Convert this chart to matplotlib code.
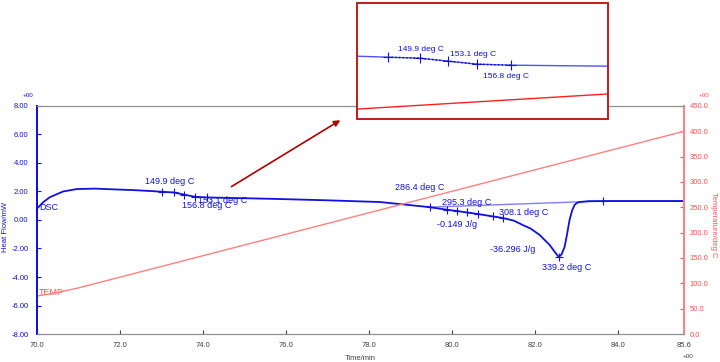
import matplotlib
matplotlib.use("Agg")
import matplotlib.pyplot as plt
import numpy as np

plt.rcParams['font.family'] = ['Liberation Sans', 'DejaVu Sans']

# DSC curve (time in min, heat flow in mW)
t_dsc = [70.0, 70.15, 70.31, 70.63, 70.96, 71.4, 71.83, 72.3, 72.75, 73.02, 73.3, 73.55,
         73.8, 74.1, 74.95, 75.86, 77.0, 78.27, 79.47, 79.88, 80.12, 80.36, 80.63, 80.99,
         81.23, 81.5, 81.71, 81.9, 82.12, 82.36, 82.5, 82.58, 82.65, 82.72, 82.78, 82.84,
         82.9, 82.96, 83.02, 83.08, 83.3, 84.0, 85.6]
hf_dsc = [0.8, 1.25, 1.6, 2.0, 2.17, 2.2, 2.15, 2.1, 2.03, 1.98, 1.93, 1.78,
          1.63, 1.58, 1.53, 1.47, 1.38, 1.26, 0.9, 0.72, 0.63, 0.53, 0.42, 0.25,
          0.14, -0.05, -0.35, -0.6, -1.05, -1.75, -2.3, -2.6, -2.4, -1.9, -1.0, 0.0,
          0.65, 1.05, 1.2, 1.26, 1.32, 1.33, 1.33]

# temperature program (deg C)
t_temp = [70.0, 70.5, 71.0, 85.6]
temp = [75, 82, 91, 400]

# integration baseline
t_base = [79.47, 83.64, 85.6]
hf_base = [0.9, 1.33, 1.33]

# analysis markers
t_mk1 = [73.02, 73.3, 73.55, 73.8, 74.1]
hf_mk1 = [1.98, 1.93, 1.78, 1.63, 1.58]
t_mk2 = [79.47, 79.88, 80.12, 80.36, 80.63, 80.99, 81.23, 82.58, 83.64]
hf_mk2 = [0.9, 0.72, 0.63, 0.53, 0.42, 0.25, 0.14, -2.6, 1.33]

blue = '#1010e0'
lblue = '#8080ff'
pink = '#ff8080'
dred = '#b00000'

fig = plt.figure(figsize=(7.2, 3.62), dpi=100)
ax = fig.add_axes([0.0514, 0.0773, 0.8986, 0.63])
ax2 = ax.twinx()

ax.plot(t_base, hf_base, color=lblue, lw=1.0)
ax.plot(t_dsc, hf_dsc, color=blue, lw=1.3)
ax.plot(t_mk1, hf_mk1, '+', color=blue, ms=6, mew=0.8)
ax.plot(t_mk2, hf_mk2, '+', color=blue, ms=6, mew=0.8)
ax2.plot(t_temp, temp, color=pink, lw=1.0)

ax.set_xlim(70.0, 85.6)
ax.set_ylim(-8, 8)
ax2.set_ylim(0, 450)
ax.set_xticks([70, 72, 74, 76, 78, 80, 82, 84, 85.6])
ax.set_xticklabels(['70.0', '72.0', '74.0', '76.0', '78.0', '80.0', '82.0', '84.0', '85.6'])
ax.set_yticks(np.arange(-8, 9, 2))
ax.set_yticklabels(['%.2f' % v for v in np.arange(-8, 9, 2)])
ax2.set_yticks(np.arange(0, 451, 50))
ax2.set_yticklabels(['%.1f' % v for v in np.arange(0, 451, 50)])

ax.tick_params(axis='x', direction='in', length=3, labelsize=5.5, colors='#404040', pad=6)
ax.tick_params(axis='y', direction='in', length=3, labelsize=5.5, colors=blue, pad=6)
ax2.tick_params(axis='y', direction='in', length=3, labelsize=5.5, colors='#ff5050', pad=4)

for a in (ax, ax2):
    a.spines['top'].set_color('#909090')
    a.spines['bottom'].set_color('#909090')
    a.spines['left'].set_color(blue)
    a.spines['right'].set_color(pink)
    a.spines['left'].set_linewidth(1.3)
    a.spines['right'].set_linewidth(1.3)

ax.set_xlabel('Time/min', fontsize=5.5, color='#404040', labelpad=4)
ax.set_ylabel('Heat Flow/mW', fontsize=5.5, color=blue)
ax2.set_ylabel('Temperature/deg C', fontsize=5.5, color='#ff5050', rotation=270, va='center')
ax.yaxis.set_label_coords(-0.043, 0.47)
ax2.yaxis.set_label_coords(1.045, 0.48)

fig.text(0.032, 0.733, '+00', fontsize=4.5, color=blue)
fig.text(0.97, 0.733, '+00', fontsize=4.5, color='#ff5050')
fig.text(0.948, 0.012, '+00', fontsize=4.5, color='#404040')

fs = 6.5
ax.text(70.05, 0.9, 'DSC', fontsize=fs, color=blue, va='center')
ax.text(70.05, -5.1, 'TEMP', fontsize=fs, color='#ff5050', va='center')
ax.text(73.2, 2.73, '149.9 deg C', fontsize=fs, color=blue, ha='center', va='center')
ax.text(73.88, 1.4, '153.1 deg C', fontsize=fs, color=blue, ha='left', va='center')
ax.text(74.1, 1.0, '156.8 deg C', fontsize=fs, color=blue, ha='center', va='center')
ax.text(79.23, 2.3, '286.4 deg C', fontsize=fs, color=blue, ha='center', va='center')
ax.text(80.36, 1.26, '295.3 deg C', fontsize=fs, color=blue, ha='center', va='center')
ax.text(81.73, 0.5, '308.1 deg C', fontsize=fs, color=blue, ha='center', va='center')
ax.text(80.12, -0.35, '-0.149 J/g', fontsize=fs, color=blue, ha='center', va='center')
ax.text(81.47, -2.1, '-36.296 J/g', fontsize=fs, color=blue, ha='center', va='center')
ax.text(82.77, -3.3, '339.2 deg C', fontsize=fs, color=blue, ha='center', va='center')

ax.annotate('', xy=(77.37, 7.1), xytext=(74.63, 2.24),
            arrowprops=dict(arrowstyle='-|>', color=dred, lw=1.2, mutation_scale=9))

# zoomed inset
ins = fig.add_axes([0.496, 0.671, 0.348, 0.32])
ins2 = ins.twinx()
ins.plot(t_dsc, hf_dsc, color='#5050ff', lw=1.0)
ins.plot(t_mk1, hf_mk1, ':', color='#0000a0', lw=1.0)
ins.plot(t_mk1, hf_mk1, '+', color=blue, ms=7, mew=0.8)
ins2.plot(t_temp, temp, color='#ff2020', lw=1.0)
ins.set_xlim(72.75, 74.95)
ins.set_ylim(-1.12, 4.68)
ins2.set_ylim(97, 455)
for a in (ins, ins2):
    a.set_xticks([])
    a.set_yticks([])
    for s in a.spines.values():
        s.set_color('#c02020')
        s.set_linewidth(1.3)
ins.text(73.31, 2.38, '149.9 deg C', fontsize=6, color=blue, ha='center', va='center')
ins.text(73.77, 2.13, '153.1 deg C', fontsize=6, color=blue, ha='center', va='center')
ins.text(74.06, 1.03, '156.8 deg C', fontsize=6, color=blue, ha='center', va='center')

fig.savefig('out.png', dpi=100)
